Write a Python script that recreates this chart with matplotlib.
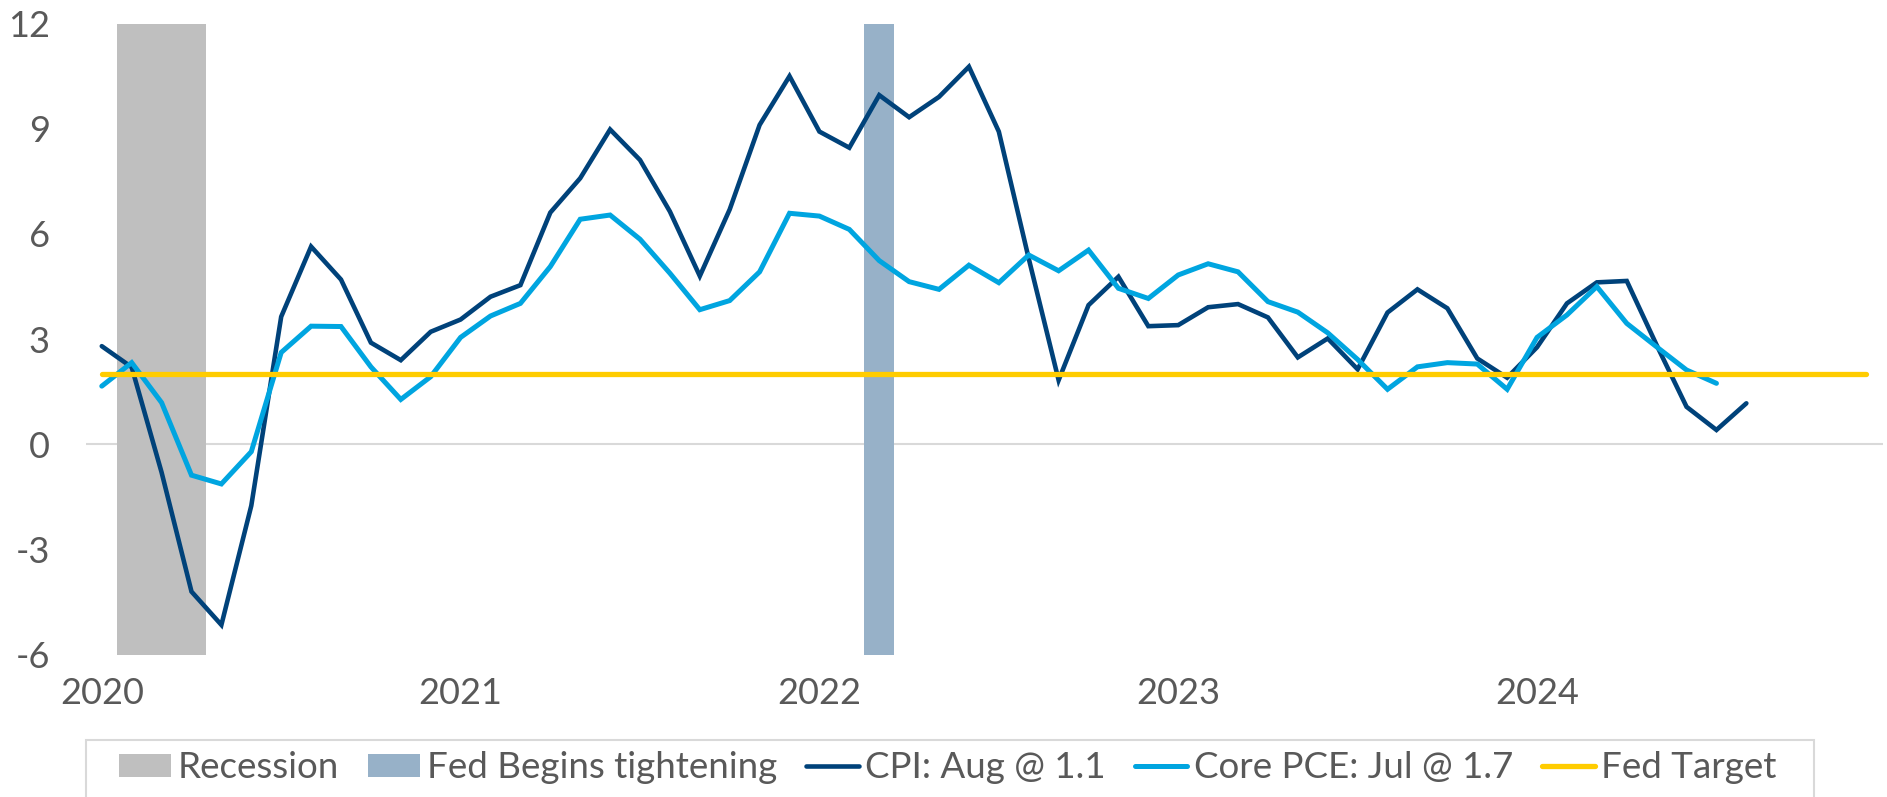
import numpy as np
import pandas as pd
import matplotlib
matplotlib.use("Agg")
import matplotlib.pyplot as plt
from matplotlib.patches import Rectangle

plt.rcParams['font.family'] = ['Lato', 'DejaVu Sans']

# monthly readings, Jan 2020 onward
cpi = [2.8, 2.2, -0.8, -4.2, -5.15, -1.75, 3.64, 5.64, 4.7, 2.9, 2.4, 3.21,
       3.56, 4.21, 4.54, 6.61, 7.59, 8.98, 8.11, 6.64, 4.8, 6.7, 9.11, 10.5,
       8.92, 8.46, 9.96, 9.33, 9.91, 10.77, 8.92, 5.3, 1.83, 3.97, 4.78, 3.37,
       3.4, 3.91, 4.0, 3.62, 2.48, 3.02, 2.14, 3.76, 4.42, 3.88, 2.45, 1.9,
       2.77, 4.02, 4.62, 4.66, 2.83, 1.07, 0.41, 1.17]
core_pce = [1.66, 2.33, 1.19, -0.88, -1.13, -0.21, 2.62, 3.37, 3.36, 2.21, 1.28, 1.93,
            3.05, 3.66, 4.02, 5.07, 6.42, 6.54, 5.85, 4.88, 3.84, 4.1, 4.92, 6.59,
            6.51, 6.13, 5.24, 4.64, 4.42, 5.11, 4.61, 5.4, 4.95, 5.54, 4.45, 4.16,
            4.83, 5.15, 4.92, 4.07, 3.77, 3.18, 2.42, 1.57, 2.21, 2.33, 2.29, 1.57,
            3.05, 3.69, 4.5, 3.45, 2.78, 2.12, 1.74]
fed_target = [2.0] * 60

months = pd.date_range('2020-01-01', '2024-12-01', freq='MS')
recession_months = ['2020-02', '2020-03', '2020-04']
tightening_months = ['2022-03']

labels = ['Recession', 'Fed Begins tightening', 'CPI: Aug @ 1.1',
          'Core PCE: Jul @ 1.7', 'Fed Target']
yticks = [-6, -3, 0, 3, 6, 9, 12]

# ---------------------------------------------------------------
month_str = list(months.strftime('%Y-%m'))
x = np.arange(len(months))
rec_x = [month_str.index(m) for m in recession_months]
tight_x = [month_str.index(m) for m in tightening_months]

W, H = 1887, 797
fig = plt.figure(figsize=(W / 100, H / 100), dpi=100)
ax = fig.add_axes([86 / W, 1 - 654.7 / H, 1797 / W, (654.7 - 23.6) / H])

h_rec = ax.bar(rec_x, [18] * len(rec_x), bottom=-6, width=1.0, color='#BFBFBF',
               label=labels[0], zorder=1)
h_tight = ax.bar(tight_x, [18] * len(tight_x), bottom=-6, width=1.0, color='#97B1C8',
                 label=labels[1], zorder=1)
ax.axhline(0, color='#D9D9D9', lw=1.5, zorder=0.5)

h_cpi, = ax.plot(x[:len(cpi)], cpi, color='#00427A', lw=3.3, label=labels[2],
                 solid_joinstyle='miter', solid_capstyle='round', zorder=3)
h_pce, = ax.plot(x[:len(core_pce)], core_pce, color='#00A5E0', lw=3.6, label=labels[3],
                 solid_joinstyle='miter', solid_capstyle='round', zorder=4)
h_fed, = ax.plot(x[:len(fed_target)], fed_target, color='#FFCC00', lw=3.8, label=labels[4],
                 solid_capstyle='round', zorder=5)

ax.set_xlim(-0.528, 59.57)
ax.set_ylim(-6, 12)
ax.set_yticks(yticks)
ax.set_yticklabels([str(v) for v in yticks])
year_pos = [i for i, m in enumerate(months) if m.month == 1]
ax.set_xticks(year_pos)
ax.set_xticklabels([str(months[i].year) for i in year_pos])

for s in ax.spines.values():
    s.set_visible(False)
ax.tick_params(axis='both', length=0, labelsize=26, labelcolor='#595959')
ax.tick_params(axis='y', pad=26)
ax.tick_params(axis='x', pad=16)

# legend box (bottom edge falls outside the figure like the original)
fig.patches.append(Rectangle((86 / W, -0.05), (1814 - 86) / W, 1 - 740 / H + 0.05,
                             transform=fig.transFigure, fill=False,
                             edgecolor='#D9D9D9', lw=1.5))
fig.legend([h_rec, h_tight, h_cpi, h_pce, h_fed], labels,
           loc='center left', bbox_to_anchor=(119 / W, 1 - 768 / H), ncol=5,
           frameon=False, fontsize=26.5, labelcolor='#595959',
           handlelength=1.42, handleheight=0.58, handletextpad=0.17,
           columnspacing=0.8, borderpad=0, borderaxespad=0)

fig.savefig('out.png', dpi=100)
